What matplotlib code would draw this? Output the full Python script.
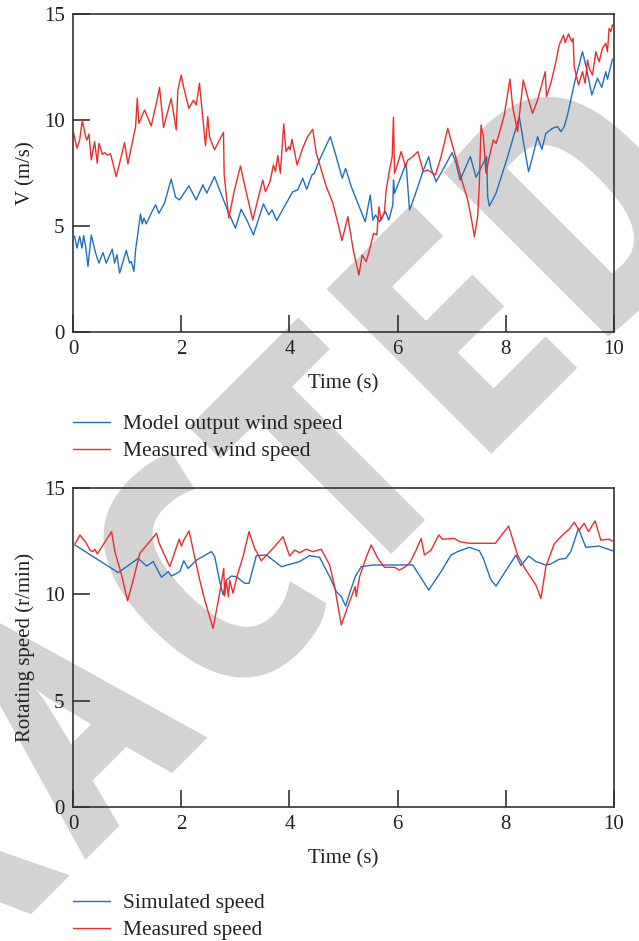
import matplotlib
matplotlib.use("Agg")
import matplotlib.pyplot as plt
from matplotlib.lines import Line2D
from matplotlib import font_manager, patheffects
from matplotlib.textpath import TextPath
from matplotlib.font_manager import FontProperties
import math

plt.rcParams['font.family'] = ['Liberation Serif', 'DejaVu Serif']

# ---------------- data: top panel (wind speed) ----------------
wind_model_t = [0.03, 0.074, 0.123, 0.166, 0.197, 0.234, 0.277, 0.338, 0.418, 0.48, 0.554, 0.615, 0.726,
                0.769, 0.812, 0.862, 0.985, 1.046, 1.077, 1.126, 1.157, 1.2, 1.249, 1.28, 1.311, 1.354, 1.446,
                1.526, 1.588, 1.692, 1.815, 1.895, 1.969, 2.142, 2.277, 2.4, 2.474, 2.615, 2.757, 2.88, 3.003,
                3.108, 3.212, 3.335, 3.415, 3.52, 3.618, 3.68, 3.766, 3.908, 4.062, 4.154, 4.246, 4.32, 4.418,
                4.462, 4.542, 4.756, 4.866, 4.977, 5.039, 5.143, 5.266, 5.402, 5.494, 5.543, 5.592, 5.666,
                5.777, 5.838, 5.912, 5.924, 5.943, 6.158, 6.22, 6.312, 6.466, 6.576, 6.619, 6.712, 6.834,
                7.007, 7.081, 7.154, 7.345, 7.45, 7.646, 7.665, 7.696, 7.819, 8.034, 8.249, 8.341, 8.421,
                8.495, 8.587, 8.667, 8.741, 8.864, 8.956, 9.018, 9.079, 9.141, 9.282, 9.418, 9.491, 9.59,
                9.694, 9.774, 9.848, 9.879, 9.971]
wind_model_v = [4.51, 3.96, 4.51, 3.96, 4.54, 4.03, 3.09, 4.58, 3.72, 3.25, 3.75, 3.25, 3.91,
                3.25, 3.64, 2.78, 3.85, 3.25, 3.33, 2.86, 3.88, 4.66, 5.57, 5.1, 5.37, 5.1, 5.6,
                6.0, 5.6, 6.08, 7.21, 6.36, 6.23, 6.89, 6.23, 6.94, 6.55, 7.33, 6.39, 5.6, 4.9,
                5.79, 5.29, 4.58, 5.21, 6.04, 5.53, 5.76, 5.26, 5.92, 6.62, 6.7, 7.25, 6.73, 7.41,
                7.49, 8.04, 9.21, 8.27, 7.25, 7.72, 6.86, 6.07, 5.2, 6.46, 5.28, 5.52, 5.2,
                5.68, 5.28, 5.99, 7.17, 6.54, 7.96, 5.75, 6.38, 7.56, 8.27, 7.72, 7.09, 7.64,
                8.46, 7.96, 7.17, 8.27, 7.3, 8.27, 6.38, 5.94, 6.54, 8.27, 10.16, 8.74, 7.56,
                8.27, 9.21, 8.62, 9.37, 9.61, 9.69, 9.45, 9.69, 10.24, 11.89, 13.22, 12.44, 11.18,
                11.97, 11.54, 12.28, 11.92, 12.86]

wind_meas_t = [0.012, 0.074, 0.123, 0.172, 0.234, 0.258, 0.295, 0.338, 0.4, 0.449, 0.48, 0.542, 0.585,
               0.628, 0.695, 0.8, 0.954, 1.015, 1.12, 1.157, 1.188, 1.218, 1.323, 1.446, 1.538, 1.6,
               1.674, 1.815, 1.908, 1.938, 2.0, 2.043, 2.142, 2.228, 2.277, 2.338, 2.388, 2.449, 2.492,
               2.523, 2.615, 2.782, 2.794, 2.88, 2.985, 3.095, 3.2, 3.323, 3.415, 3.508, 3.557, 3.643,
               3.705, 3.742, 3.785, 3.834, 3.895, 3.938, 3.988, 4.012, 4.049, 4.142, 4.246, 4.338,
               4.431, 4.498, 4.59, 4.682, 4.805, 4.897, 4.971, 5.082, 5.174, 5.285, 5.346, 5.42, 5.481,
               5.555, 5.617, 5.654, 5.697, 5.758, 5.789, 5.851, 5.9, 5.924, 5.943, 6.004, 6.066, 6.146,
               6.189, 6.281, 6.373, 6.478, 6.558, 6.699, 6.804, 6.927, 7.081, 7.204, 7.296, 7.357,
               7.419, 7.48, 7.511, 7.542, 7.585, 7.634, 7.696, 7.769, 7.819, 7.88, 7.972, 8.077, 8.126,
               8.218, 8.323, 8.403, 8.495, 8.587, 8.729, 8.753, 8.833, 8.926, 8.987, 9.067, 9.098,
               9.159, 9.221, 9.245, 9.264, 9.344, 9.418, 9.467, 9.51, 9.541, 9.602, 9.664, 9.725,
               9.787, 9.848, 9.879, 9.91, 9.94, 9.971]
wind_meas_v = [9.37, 8.67, 9.06, 9.97, 9.22, 9.06, 9.34, 8.12, 8.98, 7.96, 8.9, 8.38, 8.46,
               8.35, 8.4, 7.33, 8.93, 7.93, 9.22, 9.69, 11.02, 9.84, 10.47, 9.72, 10.75, 11.54,
               9.65, 11.02, 9.53, 11.41, 12.12, 11.57, 10.55, 10.94, 10.71, 11.73, 10.39, 8.79, 10.16,
               9.22, 8.59, 9.42, 7.41, 5.37, 6.7, 7.83, 6.62, 5.29, 6.23, 7.17, 6.62, 7.1,
               7.88, 7.57, 8.32, 7.49, 9.81, 8.51, 8.74, 8.59, 9.09, 7.88, 8.67, 9.22,
               9.56, 8.43, 7.64, 6.86, 6.07, 5.13, 4.31, 5.44, 3.95, 2.69, 3.63, 3.32, 3.87,
               4.65, 4.58, 5.91, 5.28, 5.68, 6.7, 7.64, 8.27, 10.13, 7.48, 7.96, 8.51, 7.8,
               8.11, 8.27, 8.51, 7.56, 7.64, 7.41, 8.27, 9.61, 8.19, 7.01, 6.23, 5.44,
               4.5, 5.44, 7.01, 9.76, 9.21, 7.48, 8.27, 9.06, 8.9, 9.37, 10.24, 11.93, 10.63,
               9.45, 11.89, 11.1, 10.31, 10.94, 12.28, 11.1, 11.73, 12.75, 13.54, 14.01, 13.65,
               14.06, 13.69, 13.85, 12.52, 11.65, 12.28, 11.73, 12.83, 12.44, 12.12, 13.22, 12.75,
               13.38, 13.62, 13.22, 14.32, 14.17, 14.48]

# ---------------- data: bottom panel (rotating speed) ----------------
rot_sim_t = [0.037, 0.836, 1.205, 1.359, 1.482, 1.636, 1.759, 1.821, 1.974, 2.048, 2.128, 2.282, 2.559,
             2.62, 2.712, 2.774, 2.835, 2.928, 3.02, 3.174, 3.254, 3.389, 3.574, 3.697, 3.851, 4.189,
             4.373, 4.558, 4.744, 4.867, 4.959, 5.039, 5.112, 5.223, 5.328, 5.543, 6.281, 6.576, 6.804,
             6.988, 7.111, 7.326, 7.511, 7.585, 7.726, 7.819, 8.188, 8.28, 8.421, 8.557, 8.741, 8.833,
             8.987, 9.11, 9.202, 9.344, 9.479, 9.725, 9.971]
rot_sim_v = [12.32, 11.02, 11.69, 11.33, 11.54, 10.8, 11.07, 10.86, 11.07, 11.58, 11.22, 11.61, 12.01,
             11.77, 10.6, 9.97, 10.67, 10.86, 10.83, 10.52, 10.52, 11.82, 11.85, 11.61, 11.3, 11.54,
             11.82, 11.74, 10.83, 10.13, 9.89, 9.45, 10.05, 10.86, 11.3, 11.38, 11.38, 10.2, 11.07,
             11.85, 12.01, 12.21, 12.05, 11.69, 10.67, 10.39, 11.85, 11.35, 11.8, 11.54, 11.38, 11.43,
             11.65, 11.69, 12.01, 13.1, 12.21, 12.27, 12.05]

rot_meas_t = [0.037, 0.129, 0.24, 0.314, 0.363, 0.406, 0.449, 0.713, 0.775, 0.898, 1.009, 1.113, 1.236,
              1.544, 1.593, 1.79, 1.962, 2.005, 2.048, 2.146, 2.208, 2.343, 2.435, 2.589, 2.7, 2.786,
              2.804, 2.835, 2.872, 2.897, 2.958, 3.032, 3.143, 3.254, 3.358, 3.481, 3.697, 3.882, 4.005,
              4.097, 4.189, 4.312, 4.435, 4.59, 4.744, 4.836, 4.959, 5.112, 5.217, 5.235, 5.297, 5.42,
              5.512, 5.635, 5.758, 5.943, 6.035, 6.127, 6.22, 6.343, 6.435, 6.496, 6.619, 6.761, 6.834,
              7.05, 7.142, 7.326, 7.806, 8.052, 8.218, 8.372, 8.557, 8.649, 8.741, 8.895, 9.049, 9.172,
              9.264, 9.356, 9.448, 9.528, 9.651, 9.756, 9.91, 9.971]
rot_meas_v = [12.37, 12.79, 12.43, 12.08, 12.01, 12.12, 11.9, 12.95, 12.01, 10.91, 9.7, 10.67, 11.93,
              12.87, 12.4, 11.3, 12.59, 12.27, 12.55, 12.98, 12.24, 10.67, 9.73, 8.4, 9.89, 11.22,
              9.92, 10.67, 9.89, 10.67, 10.05, 10.86, 11.77, 12.95, 12.16, 11.58, 12.16, 12.71, 11.8,
              12.08, 11.96, 12.12, 12.01, 12.12, 11.38, 10.36, 8.56, 9.66, 10.36, 9.89, 10.83, 11.74,
              12.32, 11.69, 11.27, 11.27, 11.14, 11.27, 11.46, 12.08, 12.63, 11.85, 12.08, 12.79, 12.59,
              12.63, 12.48, 12.4, 12.4, 13.21, 11.85, 11.14, 10.44, 9.81, 11.3, 12.37, 12.79, 13.06,
              13.39, 13.02, 13.34, 12.95, 13.45, 12.55, 12.59, 12.51]

x_ticks = [0, 2, 4, 6, 8, 10]
y_ticks = [0, 5, 10, 15]
top_ylabel = "V (m/s)"
bottom_ylabel = "Rotating speed (r/min)"
xlabel = "Time (s)"
top_labels = ["Model output wind speed", "Measured wind speed"]
bottom_labels = ["Simulated speed", "Measured speed"]
watermark = "RETRACTED"

BLUE = '#1f6fbf'
RED = '#ec2b2b'
SPINE = '#333333'
TXT = '#222222'
WM_GREY = '#d3d3d3'
W, H = 639, 941

fig = plt.figure(figsize=(W / 100, H / 100), dpi=100)

# ---------------- watermark (behind everything) ----------------
def _w(v):
    if isinstance(v, str):
        return font_manager.weight_dict.get(v, 400)
    return int(v)

entries = font_manager.fontManager.ttflist
wm_prefs = ['Nimbus Sans Narrow', 'Liberation Sans Narrow', 'Arial Narrow', 'Archivo Narrow',
            'PT Sans Narrow', 'Roboto Condensed', 'Fira Sans Condensed', 'IBM Plex Sans Condensed',
            'Barlow Semi Condensed', 'Encode Sans Condensed', 'Asap Condensed']
names = {f.name for f in entries}
wm_family = None
for fam in wm_prefs:
    if any(f.name == fam and _w(f.weight) >= 600 for f in entries):
        wm_family = fam
        break
if wm_family is None:
    wm_family = next((f for f in wm_prefs if f in names), 'Liberation Sans')

fp = FontProperties(family=wm_family, weight='bold')
cap_em = TextPath((0, 0), 'E', size=1, prop=fp).get_extents().height
stem_em = TextPath((0, 0), 'I', size=1, prop=fp).get_extents().width
WM_CAP = 233            # outer cap height in pixels
WM_STEM = 48            # stroke thickness in pixels
lw_px = 0.0
for _ in range(3):
    em_px = (WM_CAP - lw_px) / cap_em
    lw_px = max(0.0, WM_STEM - stem_em * em_px)
em_px = (WM_CAP - lw_px) / cap_em
wm_pt = em_px * 72 / 100
effects = []
if lw_px > 0.5:
    effects = [patheffects.withStroke(linewidth=lw_px * 0.72, foreground=WM_GREY, joinstyle='miter')]

# ink centres of the letters along the 45-degree baseline (x + y = 940 in image pixels)
wm_s = [-1185, -1000, -830, -653, -461, -269, -91, 85, 267]
for ch, s in zip(watermark, wm_s):
    bx = (940 + s * math.sqrt(2)) / 2
    by = (940 - s * math.sqrt(2)) / 2
    cx, cy = bx - WM_CAP / 2 / math.sqrt(2), by - WM_CAP / 2 / math.sqrt(2)
    if -150 < cx < W + 150 and -150 < cy < H + 150:
        fig.text(bx / W, 1 - by / H, ch, rotation=45, rotation_mode='anchor',
                 ha='center', va='baseline', fontsize=wm_pt, fontweight='bold',
                 family=wm_family, color=WM_GREY, zorder=-5, path_effects=effects)


def make_ax(top_px, bottom_px):
    ax = fig.add_axes([73 / W, 1 - bottom_px / H, (614 - 73) / W, (bottom_px - top_px) / H])
    ax.set_facecolor('none')
    ax.set_xlim(0, 10)
    ax.set_ylim(0, 15)
    ax.set_xticks(x_ticks)
    ax.set_yticks(y_ticks)
    ax.tick_params(direction='in', length=12, width=1.2, color=SPINE, labelsize=15,
                   pad=6, top=False, right=False, labelcolor=TXT)
    for s in ax.spines.values():
        s.set_linewidth(1.2)
        s.set_color(SPINE)
    ax.set_xlabel(xlabel, fontsize=15, color=TXT, labelpad=11)
    return ax


ax1 = make_ax(14, 332)
ax1.plot(wind_model_t, wind_model_v, color=BLUE, lw=1.0)
ax1.plot(wind_meas_t, wind_meas_v, color=RED, lw=1.0)
ax1.set_ylabel(top_ylabel, fontsize=15, color=TXT, labelpad=6)

ax2 = make_ax(488, 807)
ax2.plot(rot_sim_t, rot_sim_v, color=BLUE, lw=1.0)
ax2.plot(rot_meas_t, rot_meas_v, color=RED, lw=1.0)
ax2.set_ylabel(bottom_ylabel, fontsize=15, color=TXT, labelpad=6)


def add_legend(ax, labels, top_px):
    handles = [Line2D([], [], color=BLUE, lw=1.0), Line2D([], [], color=RED, lw=1.0)]
    leg = ax.legend(handles, labels, loc='upper left',
                    bbox_to_anchor=(73 / W, 1 - top_px / H), bbox_transform=fig.transFigure,
                    frameon=False, borderpad=0, borderaxespad=0, handlelength=1.72,
                    handletextpad=0.6, labelspacing=0.33, fontsize=15.5)
    for t in leg.get_texts():
        t.set_color(TXT)


add_legend(ax1, top_labels, 414)
add_legend(ax2, bottom_labels, 893)

fig.savefig('out.png', dpi=100)
